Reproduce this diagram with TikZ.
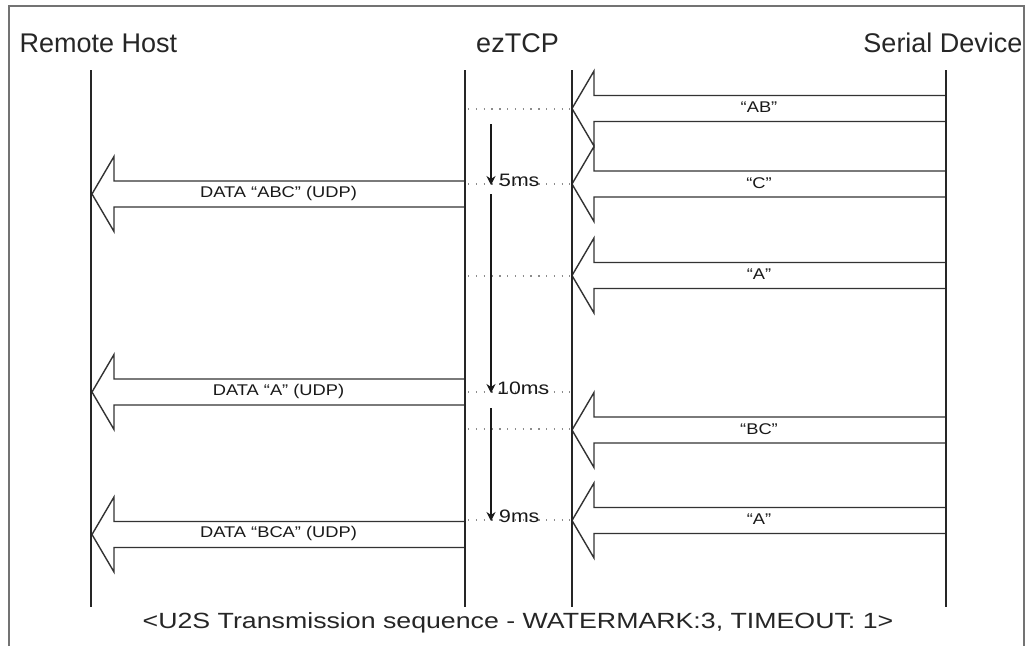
\documentclass[tikz,border=0pt]{standalone}
\usepackage{graphicx}
\usepackage{fontspec}
\setmainfont{Liberation Sans}
\usetikzlibrary{arrows.meta}
\newcommand\wide[1]{\scalebox{1.18}[1]{#1}}
\newcommand\blkarrow[4]{% tip x, tail x, y, label
  \draw[blk] (#1,#3) -- (#1+22,#3-37.5) -- (#1+22,#3-13) -- (#2,#3-13)
    -- (#2,#3+13) -- (#1+22,#3+13) -- (#1+22,#3+37.5) -- cycle;
  \node[lbl] at ({(#1+#2)/2},#3-1) {\wide{#4}};}
\begin{document}
\begin{tikzpicture}[x=1pt,y=-1pt,
  life/.style={line width=2pt, draw=black!85},
  blk/.style={draw=black!80, line width=1.4pt, fill=white, line join=miter},
  dots/.style={draw=black!45, line width=1.3pt, dash pattern=on 1.3pt off 6.5pt},
  timer/.style={line width=1.3pt, draw=black!90, -{Stealth[length=9pt,width=9pt]}},
  lbl/.style={font=\fontsize{15.5}{17}\selectfont, text=black!90, inner sep=0pt},
  ms/.style={font=\fontsize{18}{20}\selectfont, text=black!90, inner sep=0pt, anchor=base west},
  title/.style={font=\fontsize{27}{30}\selectfont, text=black!85, inner sep=0pt, anchor=base}]
\useasboundingbox (0,0) rectangle (1025,646);
% frame
\draw[black!55, line width=2pt] (9,646) -- (9,6) -- (1024,6) -- (1024,646);
% titles
\node[title] (rh) at (98.5,52) {Remote Host};
\node[title] (ez) at (517.5,52) {ezTCP};
\node[title] (sd) at (943,52) {Serial Device};
% lifeline ends
\coordinate (rhT) at (91,70);   \coordinate (rhB) at (91,607);
\coordinate (ezLT) at (465,70); \coordinate (ezLB) at (465,607);
\coordinate (ezRT) at (572,70); \coordinate (ezRB) at (572,607);
\coordinate (sdT) at (946,70);  \coordinate (sdB) at (946,607);
% dotted lines
\foreach \yy in {109,184,276,392,429,520}
  \draw[dots] (468,\yy) -- (570,\yy);
% serial -> ezTCP
\blkarrow{572}{946}{108.5}{“AB”}
\blkarrow{572}{946}{184}{“C”}
\blkarrow{572}{946}{275.5}{“A”}
\blkarrow{572}{946}{430}{“BC”}
\blkarrow{572}{946}{520.5}{“A”}
% ezTCP -> remote host
\blkarrow{92}{465}{194}{DATA “ABC” (UDP)}
\blkarrow{92}{465}{392}{DATA “A” (UDP)}
\blkarrow{92}{465}{534.5}{DATA “BCA” (UDP)}
% lifelines
\draw[life] (rhT) -- (rhB);
\draw[life] (ezLT) -- (ezLB);
\draw[life] (ezRT) -- (ezRB);
\draw[life] (sdT) -- (sdB);
% timers
\coordinate (t1a) at (491,124); \coordinate (t1b) at (491,185);
\coordinate (t2a) at (491,194); \coordinate (t2b) at (491,393);
\coordinate (t3a) at (491,408); \coordinate (t3b) at (491,521);
\draw[timer] (t1a) -- (t1b);
\draw[timer] (t2a) -- (t2b);
\draw[timer] (t3a) -- (t3b);
\node[ms] (m5) at (499,186) {\wide{5ms}};
\node[ms] (m10) at (497,394) {\wide{10ms}};
\node[ms] (m9) at (499,522) {\wide{9ms}};
% caption
\node[font=\fontsize{22}{24}\selectfont, text=black!85, inner sep=0pt, anchor=base] (cap) at (518,628)
  {\scalebox{1.215}[1]{<U2S Transmission sequence - WATERMARK:3, TIMEOUT: 1>}};
\end{tikzpicture}
\end{document}
